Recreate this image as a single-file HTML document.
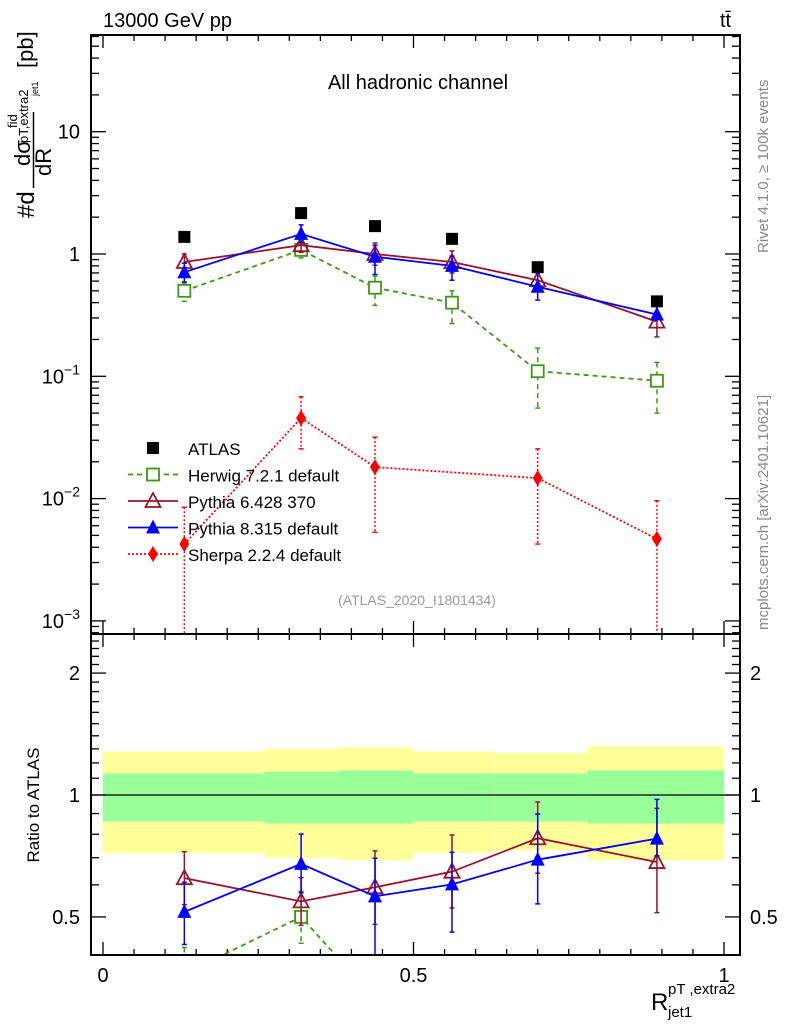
<!DOCTYPE html>
<html><head><meta charset="utf-8"><style>
html,body{margin:0;padding:0;background:#fff;width:786px;height:1024px;overflow:hidden;}
svg{display:block;font-family:"Liberation Sans",sans-serif;}
</style></head><body>
<svg id="chart" width="786" height="1024" viewBox="0 0 786 1024" xmlns="http://www.w3.org/2000/svg">
<defs>
<clipPath id="clipMain"><rect x="91" y="35" width="649" height="599"/></clipPath>
<clipPath id="clipRatio"><rect x="91" y="635" width="649" height="320"/></clipPath>
</defs>
<text x="103" y="27" font-size="20">13000 GeV pp</text>
<text x="720" y="27" font-size="20">tt̄</text>
<text x="418" y="89" font-size="20" text-anchor="middle">All hadronic channel</text>
<text x="417" y="605" font-size="14" fill="#999" text-anchor="middle">(ATLAS_2020_I1801434)</text>
<g transform="rotate(-90)" fill="#888" font-size="15">
<text x="-253" y="768">Rivet 4.1.0, ≥ 100k events</text>
<text x="-630" y="768">mcplots.cern.ch [arXiv:2401.10621]</text>
</g>
<g>
<g transform="rotate(-90)">
<text x="-218" y="34" font-size="24">#d</text>
<text x="-176" y="51" font-size="22">dR</text>
<text x="-166" y="30" font-size="22">dσ</text>
<text x="-128" y="17" font-size="13">fid</text>
<text x="-143" y="28" font-size="13">pT,extra2</text>
<text x="-96" y="38" font-size="9">jet1</text>
<text x="-68" y="33" font-size="22">[pb]</text>
</g>
<line x1="33.5" y1="112" x2="33.5" y2="188" stroke="#000" stroke-width="1.5"/>
</g>
<text transform="rotate(-90)" x="-805" y="39" font-size="17" text-anchor="middle">Ratio to ATLAS</text>
<g>
<text x="651" y="1010" font-size="24">R</text>
<text x="668" y="994" font-size="15">pT ,extra2</text>
<text x="668" y="1017" font-size="15">jet1</text>
</g>
<g id="bands" clip-path="url(#clipRatio)"></g>
<g id="axes"></g>
<g id="mainMarks" clip-path="url(#clipMain)"></g>
<g id="ratioMarks" clip-path="url(#clipRatio)"></g>
<g id="legend"></g>
<rect x="91" y="35" width="649" height="599" fill="none" stroke="#000" stroke-width="2"/>
<rect x="91" y="634" width="649" height="321" fill="none" stroke="#000" stroke-width="2"/>
</svg>
<script>
const xPoints = [0.131, 0.319, 0.438, 0.562, 0.700, 0.892];
const atlasVals = [1.38, 2.16, 1.69, 1.33, 0.78, 0.41];
const herwigVals = [0.50, 1.08, 0.53, 0.40, 0.11, 0.092];
const herwigHi = [0.58, 1.25, 0.66, 0.50, 0.17, 0.13];
const herwigLo = [0.41, 0.93, 0.38, 0.27, 0.055, 0.05];
const py6Vals = [0.86, 1.18, 1.0, 0.86, 0.61, 0.28];
const py6Hi = [1.0, 1.35, 1.23, 1.06, 0.75, 0.38];
const py6Lo = [0.74, 1.03, 0.81, 0.70, 0.50, 0.21];
const py8Vals = [0.71, 1.46, 0.95, 0.80, 0.54, 0.32];
const py8Hi = [0.84, 1.73, 1.18, 0.96, 0.70, 0.40];
const py8Lo = [0.59, 1.24, 0.68, 0.61, 0.42, 0.29];
const sherpaX = [0.131, 0.319, 0.438, 0.700, 0.892];
const sherpaVals = [0.00425, 0.0456, 0.0181, 0.0147, 0.00468];
const sherpaHi = [0.0085, 0.068, 0.0318, 0.0255, 0.0096];
const sherpaLo = [0.00001, 0.0255, 0.0053, 0.00425, 0.00001];
const binEdges = [0, 0.26, 0.38, 0.5, 0.63, 0.78, 1.0];
const yellowHi = [1.28, 1.30, 1.31, 1.28, 1.27, 1.32];
const greenHi = [1.13, 1.14, 1.15, 1.13, 1.13, 1.15];
const greenLo = [0.86, 0.85, 0.85, 0.86, 0.86, 0.85];
const yellowLo = [0.72, 0.70, 0.69, 0.72, 0.73, 0.69];
const xTickLabels = ["0", "0.5", "1"];
const yMainDecades = [-3, -2, -1, 0, 1];
const ratioTickLabels = ["0.5", "1", "2"];

const NS = "http://www.w3.org/2000/svg";
const xs = v => 103 + v * 621;
const ys = v => 254 - Math.log10(v) * 122.3;
const yr = r => 795 - Math.log10(r) * 405;
function mk(tag, attrs, parent) {
  const e = document.createElementNS(NS, tag);
  for (const k in attrs) e.setAttribute(k, attrs[k]);
  parent.appendChild(e);
  return e;
}
const bands = document.getElementById('bands');
const axes = document.getElementById('axes');
const mainG = document.getElementById('mainMarks');
const ratioG = document.getElementById('ratioMarks');
const legend = document.getElementById('legend');

for (let i = 0; i < 6; i++) {
  const x0 = xs(binEdges[i]), x1 = xs(binEdges[i + 1]);
  const y = mk('rect', {x: x0, y: yr(yellowHi[i]), width: x1 - x0, height: yr(yellowLo[i]) - yr(yellowHi[i]), fill: '#ffff99'}, bands);
  
  
  const g = mk('rect', {x: x0, y: yr(greenHi[i]), width: x1 - x0, height: yr(greenLo[i]) - yr(greenHi[i]), fill: '#99ff99'}, bands);
  
  
}
const one = mk('line', {x1: 91, x2: 740, y1: yr(1), y2: yr(1), stroke: '#000', 'stroke-width': 1.3}, bands);



const tk = (x1, y1, x2, y2) => mk('line', {x1, y1, x2, y2, stroke: '#000', 'stroke-width': 1.3}, axes);
for (let k = 0; k <= 20; k++) {
  const v = k * 0.05, x = xs(v);
  const major = (k % 10 === 0);
  const L = major ? 13 : 6;
  tk(x, 35, x, 35 + L); tk(x, 634, x, 634 - L);
  tk(x, 634, x, 634 + L); tk(x, 955, x, 955 - L);
}
xTickLabels.forEach((s, i) => {
  const t = mk('text', {x: xs(i * 0.5), y: 982, 'font-size': 20, 'text-anchor': 'middle'}, axes);
  t.textContent = s;
  
  
});
for (const d of [-4, ...yMainDecades]) {
  for (let m = 1; m <= 9; m++) {
    const v = m * Math.pow(10, d), y = ys(v);
    if (y < 35 || y > 634) continue;
    const L = m === 1 ? 15 : 8;
    tk(91, y, 91 + L, y); tk(740, y, 740 - L, y);
  }
}
yMainDecades.forEach(d => {
  const y = ys(Math.pow(10, d));
  const t = mk('text', {x: 80, y: y + 7, 'font-size': 20, 'text-anchor': 'end'}, axes);
  
  
  if (d === 0) t.textContent = '1';
  else if (d === 1) t.textContent = '10';
  else {
    t.textContent = '10';
    const s = mk('tspan', {dy: -9, 'font-size': 14}, t);
    s.textContent = '\u2212' + (-d);
  }
});
for (let k = 4; k <= 24; k++) {
  const r = k / 10, y = yr(r);
  if (y < 635 || y > 955) continue;
  const major = (k === 5 || k === 10 || k === 20);
  const L = major ? 15 : 8;
  tk(91, y, 91 + L, y); tk(740, y, 740 - L, y);
}
ratioTickLabels.forEach(s => {
  const y = yr(parseFloat(s));
  const a = mk('text', {x: 80, y: y + 7, 'font-size': 20, 'text-anchor': 'end'}, axes);
  a.textContent = s;
  
  
  const b = mk('text', {x: 750, y: y + 7, 'font-size': 20}, axes);
  b.textContent = s;
  
  
});

function marker(type, x, y, color, parent) {
  let e;
  if (type === 'sq') e = mk('rect', {x: x - 6, y: y - 6, width: 12, height: 12, fill: '#000'}, parent);
  else if (type === 'osq') e = mk('rect', {x: x - 6, y: y - 6, width: 12, height: 12, fill: '#fff', stroke: color, 'stroke-width': 1.8}, parent);
  else if (type === 'otri') e = mk('polygon', {points: `${x},${y - 8} ${x - 7.5},${y + 6} ${x + 7.5},${y + 6}`, fill: 'none', stroke: color, 'stroke-width': 1.8}, parent);
  else if (type === 'tri') e = mk('polygon', {points: `${x},${y - 8} ${x - 7},${y + 6} ${x + 7},${y + 6}`, fill: color}, parent);
  else e = mk('polygon', {points: `${x},${y - 8} ${x - 5},${y} ${x},${y + 8} ${x + 5},${y}`, fill: color}, parent);
  return e;
}
function series(name, X, vals, hi, lo, color, dash, type, yf, parent, norm) {
  const g = mk('g', {}, parent);
  
  
  const f = (v, i) => yf(norm ? v / norm[xPoints.indexOf(X[i])] : v);
  const pts = X.map((x, i) => `${xs(x)},${f(vals[i], i)}`).join(' ');
  const pl = mk('polyline', {points: pts, fill: 'none', stroke: color, 'stroke-width': 1.8}, g);
  if (dash) pl.setAttribute('stroke-dasharray', dash);
  X.forEach((x, i) => {
    const px = xs(x);
    const e = mk('line', {x1: px, x2: px, y1: f(hi[i], i), y2: f(lo[i], i), stroke: color, 'stroke-width': 1.5}, g);
    if (dash) e.setAttribute('stroke-dasharray', dash);
    mk('line', {x1: px - 2.5, x2: px + 2.5, y1: f(hi[i], i), y2: f(hi[i], i), stroke: color, 'stroke-width': 1.5}, g);
    mk('line', {x1: px - 2.5, x2: px + 2.5, y1: f(lo[i], i), y2: f(lo[i], i), stroke: color, 'stroke-width': 1.5}, g);
    const m = marker(type, px, f(vals[i], i), color, g);
    
    
  });
}
const GREEN = '#3a9a10', DRED = '#a0102a', BLUE = '#0000ff', RED = '#ff0000';
series('herwig-series', xPoints, herwigVals, herwigHi, herwigLo, GREEN, '5,4', 'osq', ys, mainG);
series('sherpa-series', sherpaX, sherpaVals, sherpaHi, sherpaLo, RED, '2,2', 'dia', ys, mainG);
series('pythia6-series', xPoints, py6Vals, py6Hi, py6Lo, DRED, null, 'otri', ys, mainG);
series('pythia8-series', xPoints, py8Vals, py8Hi, py8Lo, BLUE, null, 'tri', ys, mainG);
const ag = mk('g', {}, mainG);


xPoints.forEach((x, i) => {
  const m = marker('sq', xs(x), ys(atlasVals[i]), '#000', ag);
  
  
});
series('herwig-ratio', xPoints, herwigVals, herwigHi, herwigLo, GREEN, '5,4', 'osq', yr, ratioG, atlasVals);
series('pythia6-ratio', xPoints, py6Vals, py6Hi, py6Lo, DRED, null, 'otri', yr, ratioG, atlasVals);
series('pythia8-ratio', xPoints, py8Vals, py8Hi, py8Lo, BLUE, null, 'tri', yr, ratioG, atlasVals);

const entries = [
  ['ATLAS', '#000', null, 'sq', false],
  ['Herwig 7.2.1 default', GREEN, '5,4', 'osq', true],
  ['Pythia 6.428 370', DRED, null, 'otri', true],
  ['Pythia 8.315 default', BLUE, null, 'tri', true],
  ['Sherpa 2.2.4 default', RED, '2,2', 'dia', true]
];
entries.forEach((en, i) => {
  const y = 448 + i * 26.5;
  const g = mk('g', {}, legend);
  
  
  if (en[4]) {
    const l = mk('line', {x1: 128, x2: 178, y1: y, y2: y, stroke: en[1], 'stroke-width': 1.8}, g);
    if (en[2]) l.setAttribute('stroke-dasharray', en[2]);
  }
  marker(en[3], 153, y, en[1], g);
  const t = mk('text', {x: 188, y: y + 7, 'font-size': 17}, g);
  t.textContent = en[0];
});
</script>
</body></html>
